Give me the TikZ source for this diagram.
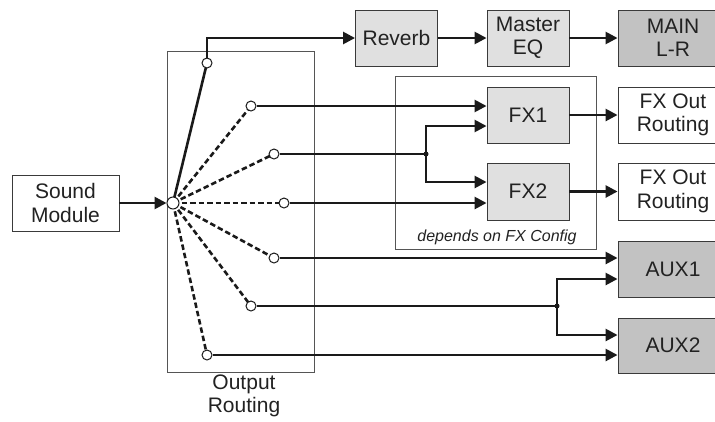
\documentclass[tikz,border=0pt]{standalone}
\usepackage{fontspec}
\setmainfont{Liberation Sans}
\usetikzlibrary{arrows.meta}
\definecolor{lightfill}{HTML}{E0E0E0}
\definecolor{darkfill}{HTML}{C2C2C2}
\definecolor{boxline}{HTML}{3A3A3A}
\definecolor{frameline}{HTML}{555555}
\definecolor{txt}{HTML}{222222}
\definecolor{wire}{HTML}{1A1A1A}
\begin{document}
\begin{tikzpicture}[x=1pt,y=-1pt,
  box/.style={draw=boxline, line width=0.9pt, text=txt, font=\fontsize{21}{23.5}\selectfont, align=center, inner sep=0pt, minimum width=82pt, minimum height=56pt},
  lbox/.style={box, fill=lightfill},
  dbox/.style={box, fill=darkfill, minimum width=110pt},
  wbox/.style={box, fill=white, minimum width=110pt},
  frame/.style={draw=frameline, line width=0.9pt, inner sep=0pt},
  conn/.style={draw=wire, line width=2.6pt},
  arr/.style={conn, -{Triangle[length=12pt,width=12pt]}},
  dsh/.style={draw=wire, line width=2.6pt, dash pattern=on 5.5pt off 3pt},
  sw/.style={circle, draw=wire, fill=white, line width=1pt, minimum size=10pt, inner sep=0pt},
  dot/.style={circle, fill=wire, minimum size=5pt, inner sep=0pt}
]
\useasboundingbox (0,0) rectangle (715,421);

% frames
\node[frame, minimum width=147pt, minimum height=321pt] (routing) at (240.5,211.5) {};
\node[frame, minimum width=201pt, minimum height=173pt] (fxcfg) at (495.5,162.5) {};
\node[text=txt, font=\fontsize{16}{18}\selectfont\itshape] (dep) at (497,237) {depends on FX Config};
\node[text=txt, align=center, font=\fontsize{21}{23.5}\selectfont] (rlabel) at (244,396) {Output\\Routing};

% boxes
\node[box, fill=white, minimum width=107pt] (sm) at (65.5,203) {Sound\\Module};
\node[lbox] (reverb) at (396.5,38) {Reverb};
\node[lbox] (meq) at (528,38) {Master\\EQ};
\node[dbox] (main) at (673,38) {MAIN\\L-R};
\node[lbox] (fx1) at (528,115) {FX1};
\node[lbox, minimum height=57pt] (fx2) at (528,191.5) {FX2};
\node[wbox] (fo1) at (673,115) {FX Out\\Routing};
\node[wbox, minimum height=57pt] (fo2) at (673,191.5) {FX Out\\Routing};
\node[dbox] (aux1) at (673,269) {AUX1};
\node[dbox, minimum height=55pt] (aux2) at (673,345.5) {AUX2};

% switch points
\coordinate (hubc) at (173,203);
\coordinate (c1c) at (207,63);
\coordinate (c2c) at (251,106);
\coordinate (c3c) at (274,154);
\coordinate (c4c) at (284,203);
\coordinate (c5c) at (274,258);
\coordinate (c6c) at (251,306);
\coordinate (c7c) at (207,355);
\coordinate (j1) at (426,154);
\coordinate (j2) at (557,306);

% fan lines (under the circles)
\draw[conn] (hubc) -- (c1c);
\draw[dsh] (hubc) -- (c2c);
\draw[dsh] (hubc) -- (c3c);
\draw[dsh] (hubc) -- (c4c);
\draw[dsh] (hubc) -- (c5c);
\draw[dsh] (hubc) -- (c6c);
\draw[dsh] (hubc) -- (c7c);

\node[sw, minimum size=12pt] (hub) at (hubc) {};
\node[sw] (c1) at (c1c) {};
\node[sw] (c2) at (c2c) {};
\node[sw] (c3) at (c3c) {};
\node[sw] (c4) at (c4c) {};
\node[sw] (c5) at (c5c) {};
\node[sw] (c6) at (c6c) {};
\node[sw] (c7) at (c7c) {};

% connectors
\draw[arr] (sm) -- (hub);
\draw[arr] (c1.north) |- (reverb.west);
\draw[arr] (reverb) -- (meq);
\draw[arr] (meq) -- (main);
\draw[arr] (c2) -- (c2 -| fx1.west);
\draw[conn] (c3) -- (j1);
\draw[arr] (j1) |- ([yshift=-11pt]fx1.west);
\draw[arr] (j1) |- ([yshift=9.5pt]fx2.west);
\draw[arr] (c4) -- (c4 -| fx2.west);
\draw[arr] (fx1) -- (fo1);
\draw[arr] (fx2) -- (fo2);
\draw[arr] (c5) -- (c5 -| aux1.west);
\draw[conn] (c6) -- (j2);
\draw[arr] (j2) |- ([yshift=-10pt]aux1.west);
\draw[arr] (j2) |- ([yshift=10.5pt]aux2.west);
\draw[arr] (c7) -- (c7 -| aux2.west);
\node[dot] (d1) at (j1) {};
\node[dot] (d2) at (j2) {};
\end{tikzpicture}
\end{document}
